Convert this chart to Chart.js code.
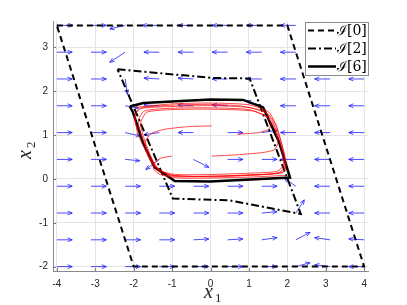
<!DOCTYPE html>
<html lang="en">
<head>
<meta charset="UTF-8">
<title>Invariant sets and phase portrait</title>
<script src="https://cdn.jsdelivr.net/npm/chart.js"></script>
<style>
  html, body { margin: 0; padding: 0; background: #fff; }
</style>
</head>
<body>
<canvas id="phaseChart" width="407" height="305"></canvas>
<script>
// axis ticks
const xTicks = [-4, -3, -2, -1, 0, 1, 2, 3, 4];
const yTicks = [-2, -1, 0, 1, 2, 3];

// quiver grid (tails) and arrow components, rows go from bottom (x2=-2) to top (x2=3.5)
const gridX = [-4, -3.111, -2.222, -1.333, -0.444, 0.444, 1.333, 2.222, 3.111, 4];
const gridY = [-2, -1.389, -0.778, -0.167, 0.444, 1.056, 1.667, 2.278, 2.889, 3.5];
const arrowU = [
  [0.4, 0.4, 0.4, 0.4, 0.4, 0.4, 0.4, 0.37, -0.4, -0.4],
  [0.4, 0.4, 0.4, 0.4, 0.4, 0.4, 0.4, 0.37, -0.4, -0.4],
  [0.4, 0.4, 0.4, 0.4, 0.4, 0.4, 0.4, 0.22, -0.4, -0.4],
  [0.4, 0.4, 0.4, 0.4, 0.4, 0.4, 0.4, -0.3, -0.4, -0.4],
  [0.4, 0.4, 0.38, -0.35, 0.4, 0.4, 0.4, -0.4, -0.4, -0.4],
  [0.4, 0.4, 0.4, -0.4, -0.4, 0.4, 0.4, -0.4, -0.4, -0.4],
  [0.4, 0.4, 0.35, -0.4, -0.4, -0.4, -0.4, -0.4, -0.4, -0.4],
  [0.4, 0.4, 0.06, -0.4, -0.4, -0.4, -0.4, -0.4, -0.4, -0.4],
  [0.4, 0.4, -0.4, -0.4, -0.4, -0.4, -0.4, -0.4, -0.4, -0.4],
  [0.42, 0.4, -0.4, -0.45, -0.4, -0.4, -0.4, -0.4, -0.4, -0.4]
];
const arrowV = [
  [0, 0, 0, 0, 0, 0, 0, 0.09, 0.04, 0],
  [0, 0, 0, 0, 0.02, 0.02, 0.05, 0.17, 0.05, 0.02],
  [0, 0, 0, 0, 0, 0, 0.03, 0.3, 0, 0],
  [0, 0, 0, 0, 0, 0, 0, 0.18, 0, 0],
  [0, 0, -0.03, -0.23, -0.18, 0, 0, 0, 0, 0],
  [0, 0, -0.08, -0.05, 0, 0, 0.05, 0, 0, 0],
  [0, 0, -0.05, 0.02, 0.02, 0.02, 0.11, 0, 0, 0],
  [0, 0, -0.35, 0.02, 0.02, 0, 0, 0, 0, 0],
  [0, 0, -0.23, 0, 0, 0, 0, 0, 0, 0],
  [0, 0, -0.08, 0, 0, 0, 0, 0, 0, 0]
];

// invariant set boundaries
const set0 = [[-4, 3.5], [2, 3.5], [4, -2], [-2, -2], [-4, 3.5]];
const set2 = [[-2.42, 2.5], [0.06, 2.3], [1.02, 2.29], [2.35, -0.8], [0.5, -0.49], [-0.98, -0.45], [-2.42, 2.5]];
const set6 = [[-2.1, 1.65], [-1.75, 1.73], [0, 1.81], [0.85, 1.8], [1.37, 1.63], [1.78, 0.85], [2.07, 0.03],
  [0, -0.06], [-0.93, -0.05], [-1.46, 0.27], [-1.76, 0.83], [-2.02, 1.52], [-2.1, 1.65]];

// simulated trajectories
const traj1 = [[0.03, 1.21], [-0.6, 1.19], [-1.2, 1.13], [-1.55, 1.03], [-1.7, 0.85], [-1.65, 0.6], [-1.5, 0.35],
  [-1.3, 0.18], [-0.9, 0.1], [0, 0.1], [1.0, 0.13], [1.72, 0.17], [1.9, 0.3], [1.87, 0.6], [1.75, 1.0],
  [1.62, 1.3], [1.42, 1.52], [0.8, 1.66], [0, 1.7], [-1.0, 1.68], [-1.8, 1.62], [-1.96, 1.45], [-1.9, 1.05],
  [-1.72, 0.7], [-1.5, 0.32], [-1.2, 0.08], [-0.8, 0.02], [0, 0.02], [1.0, 0.04], [1.96, 0.08]];
const traj2 = [[0.03, 0.52], [0.7, 0.55], [1.35, 0.6], [1.65, 0.66], [1.75, 0.8], [1.72, 1.0], [1.62, 1.25],
  [1.45, 1.42], [1.0, 1.58], [0, 1.62], [-1.0, 1.61], [-1.72, 1.55], [-1.88, 1.32], [-1.8, 1.0], [-1.62, 0.6],
  [-1.43, 0.28], [-1.1, 0.1], [-0.5, 0.06], [0.5, 0.07], [1.5, 0.11], [1.92, 0.18], [1.96, 0.42], [1.84, 0.85],
  [1.72, 1.2], [1.52, 1.52], [1.0, 1.69], [0, 1.73], [-1.0, 1.71], [-1.98, 1.63]];
const traj3 = [[-1.0, 0.52], [-1.3, 0.47], [-1.45, 0.37], [-1.48, 0.22], [-1.3, 0.1], [-0.8, 0.05], [0, 0.06],
  [1.0, 0.09], [1.75, 0.13], [1.92, 0.25], [1.92, 0.55], [1.8, 0.95], [1.67, 1.28], [1.47, 1.5], [1.0, 1.63],
  [0, 1.67], [-1.0, 1.65], [-1.85, 1.6], [-1.98, 1.42], [-1.9, 1.1]];
const traj4 = [[0.7, 1.02], [1.2, 1.05], [1.5, 1.12], [1.58, 1.25], [1.48, 1.42], [1.1, 1.55], [0, 1.59],
  [-1.0, 1.58], [-1.66, 1.52], [-1.82, 1.27], [-1.74, 0.95], [-1.57, 0.55], [-1.37, 0.24], [-1.0, 0.08],
  [0, 0.05], [1.0, 0.08], [1.88, 0.14], [1.97, 0.3]];

const legendLabels = ['\u2110[0]', '\u2110[2]', '\u2110[6]'];

const pts = arr => arr.map(([a, b]) => ({ x: a, y: b }));

function trajSet(arr) {
  return { data: pts(arr), showLine: true, borderColor: 'rgba(255,0,0,0.9)', borderWidth: 0.8,
    pointRadius: 0, tension: 0.2, fill: false };
}

const quiverPlugin = {
  id: 'quiver',
  beforeDatasetsDraw(chart) {
    const { ctx, chartArea, scales: { x, y } } = chart;
    ctx.save();
    ctx.beginPath();
    ctx.rect(chartArea.left, chartArea.top, chartArea.width, chartArea.height);
    ctx.clip();
    ctx.strokeStyle = 'rgba(30,30,255,0.8)';
    ctx.lineWidth = 1;
    gridY.forEach((yv, i) => {
      gridX.forEach((xv, j) => {
        const x0 = x.getPixelForValue(xv), y0 = y.getPixelForValue(yv);
        const x1 = x.getPixelForValue(xv + arrowU[i][j]), y1 = y.getPixelForValue(yv + arrowV[i][j]);
        const a = Math.atan2(y1 - y0, x1 - x0);
        ctx.beginPath();
        ctx.moveTo(x0, y0);
        ctx.lineTo(x1, y1);
        ctx.moveTo(x1 - 5 * Math.cos(a - 0.4), y1 - 5 * Math.sin(a - 0.4));
        ctx.lineTo(x1, y1);
        ctx.lineTo(x1 - 5 * Math.cos(a + 0.4), y1 - 5 * Math.sin(a + 0.4));
        ctx.stroke();
      });
    });
    ctx.restore();
  }
};

const decorPlugin = {
  id: 'decor',
  afterDraw(chart) {
    const { ctx, chartArea, scales: { x, y } } = chart;
    ctx.save();
    // inward tick marks
    ctx.strokeStyle = '#7a7a7a';
    ctx.lineWidth = 1;
    xTicks.forEach(v => {
      const px = Math.round(x.getPixelForValue(v)) + 0.5;
      ctx.beginPath();
      ctx.moveTo(px, chartArea.bottom);
      ctx.lineTo(px, chartArea.bottom - 3);
      ctx.stroke();
    });
    yTicks.forEach(v => {
      const py = Math.round(y.getPixelForValue(v)) + 0.5;
      ctx.beginPath();
      ctx.moveTo(chartArea.left, py);
      ctx.lineTo(chartArea.left + 3, py);
      ctx.stroke();
    });

    // axis titles
    ctx.fillStyle = '#262626';
    ctx.textAlign = 'left';
    ctx.textBaseline = 'alphabetic';
    ctx.font = 'italic 20px "Liberation Serif"';
    ctx.fillText('x', 204, 298);
    ctx.font = '13px "Liberation Serif"';
    ctx.fillText('1', 215, 302);
    ctx.save();
    ctx.translate(31, 159);
    ctx.rotate(-Math.PI / 2);
    ctx.font = 'italic 20px "Liberation Serif"';
    ctx.fillText('x', 0, 0);
    ctx.font = '13px "Liberation Serif"';
    ctx.fillText('2', 11, 4);
    ctx.restore();

    // legend box
    const lx = 305.5, ly = 22.5, lw = 63, lh = 53;
    ctx.fillStyle = '#ffffff';
    ctx.fillRect(lx, ly, lw, lh);
    ctx.strokeStyle = '#8c8c8c';
    ctx.strokeRect(lx, ly, lw, lh);
    const dashes = [[6, 4], [8, 3, 2, 3], []];
    const widths = [2, 2, 2.5];
    const rows = [30.5, 48.5, 66.5];
    legendLabels.forEach((lab, k) => {
      ctx.strokeStyle = '#000';
      ctx.lineWidth = widths[k];
      ctx.setLineDash(dashes[k]);
      ctx.beginPath();
      ctx.moveTo(308, rows[k]);
      ctx.lineTo(336, rows[k]);
      ctx.stroke();
      ctx.setLineDash([]);
      ctx.fillStyle = '#000';
      ctx.font = '14px "DejaVu Serif"';
      ctx.textBaseline = 'middle';
      ctx.fillText(lab, 337, rows[k] + 1);
    });
    ctx.restore();
  }
};

const ctx = document.getElementById('phaseChart').getContext('2d');
new Chart(ctx, {
  type: 'scatter',
  data: {
    datasets: [
      trajSet(traj1), trajSet(traj2), trajSet(traj3), trajSet(traj4),
      { label: legendLabels[0], data: pts(set0), showLine: true, borderColor: '#000', borderWidth: 2,
        borderDash: [6, 4], pointRadius: 0, tension: 0, fill: false },
      { label: legendLabels[1], data: pts(set2), showLine: true, borderColor: '#000', borderWidth: 2,
        borderDash: [8, 3, 2, 3], pointRadius: 0, tension: 0, fill: false },
      { label: legendLabels[2], data: pts(set6), showLine: true, borderColor: '#000', borderWidth: 2.5,
        pointRadius: 0, tension: 0, fill: false }
    ]
  },
  options: {
    responsive: false,
    animation: false,
    layout: { padding: { top: 21, right: 39, left: 0, bottom: 0 } },
    plugins: { legend: { display: false }, tooltip: { enabled: false } },
    scales: {
      x: {
        type: 'linear', min: -4.1, max: 4.1,
        afterBuildTicks: s => { s.ticks = xTicks.map(v => ({ value: v })); },
        afterFit: s => { s.height = 34; },
        grid: { color: '#e4e4e4', drawTicks: false },
        border: { color: '#8a8a8a' },
        ticks: { padding: 7, color: '#262626', font: { family: 'Liberation Sans', size: 10 } }
      },
      y: {
        type: 'linear', min: -2.1, max: 3.6,
        afterBuildTicks: s => { s.ticks = yTicks.map(v => ({ value: v })); },
        afterFit: s => { s.width = 53; },
        grid: { color: '#e4e4e4', drawTicks: false },
        border: { color: '#8a8a8a' },
        ticks: { padding: 5, color: '#262626', font: { family: 'Liberation Sans', size: 10 } }
      }
    }
  },
  plugins: [quiverPlugin, decorPlugin]
});
</script>
</body>
</html>
